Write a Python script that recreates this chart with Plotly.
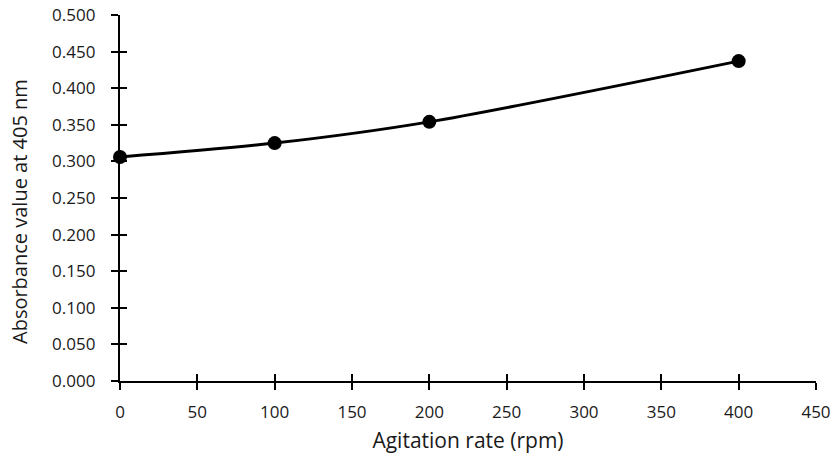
import plotly.graph_objects as go

agitation_rpm = [0, 100, 200, 400]
absorbance = [0.306, 0.325, 0.354, 0.437]

x_ticks = [0, 50, 100, 150, 200, 250, 300, 350, 400, 450]
y_ticks = [0.0, 0.05, 0.1, 0.15, 0.2, 0.25, 0.3, 0.35, 0.4, 0.45, 0.5]

x_title = "Agitation rate (rpm)"
y_title = "Absorbance value at 405 nm"

FONT = "Open Sans"
TXT = "#1a1a1a"
fig = go.Figure()
fig.add_trace(go.Scatter(
    x=agitation_rpm, y=absorbance, mode="lines+markers",
    line=dict(color="black", width=3, shape="spline", smoothing=0.8),
    marker=dict(color="black", size=14),
    showlegend=False, cliponaxis=False,
))

common = dict(showgrid=False, zeroline=False, showline=True, linecolor="black",
              linewidth=2.25, tickcolor="black", tickwidth=1.8, ticklen=7,
              automargin=False)

W, H = 835, 464
L, R, T, B = 120, 19, 15, 83
fig.update_layout(
    width=W, height=H,
    margin=dict(l=L, r=R, t=T, b=B),
    paper_bgcolor="white", plot_bgcolor="white",
    font=dict(family=FONT, size=17, color=TXT),
    xaxis=dict(range=[0, 450], tickvals=x_ticks, ticktext=[str(v) for v in x_ticks],
               ticks="outside", ticklabelstandoff=7,
               title=dict(text=x_title, standoff=12, font=dict(size=21)),
               **common),
    yaxis=dict(range=[0, 0.5], tickvals=y_ticks, ticktext=[f"{v:.3f}" for v in y_ticks],
               ticks="outside", ticklabelstandoff=12,
               **common),
    xaxis2=dict(range=[0, 450], tickvals=x_ticks, showticklabels=False, ticks="inside",
                overlaying="x", side="bottom", anchor="y", **common),
    yaxis2=dict(range=[0, 0.5], tickvals=y_ticks, showticklabels=False, ticks="inside",
                overlaying="y", side="left", anchor="x", **common),
)
pw, ph = W - L - R, H - T - B
fig.add_annotation(text=y_title, textangle=-90, showarrow=False,
                   xref="paper", yref="paper",
                   x=(19 - L) / pw, y=(H - B - 212) / ph,
                   xanchor="center", yanchor="middle",
                   font=dict(size=20, color=TXT, family=FONT))
fig.add_trace(go.Scatter(x=[None], y=[None], xaxis="x2", yaxis="y2", showlegend=False,
                         hoverinfo="skip"))
fig.write_html("out.html", config={"displayModeBar": False},
               post_script="document.body.style.margin='0';")
